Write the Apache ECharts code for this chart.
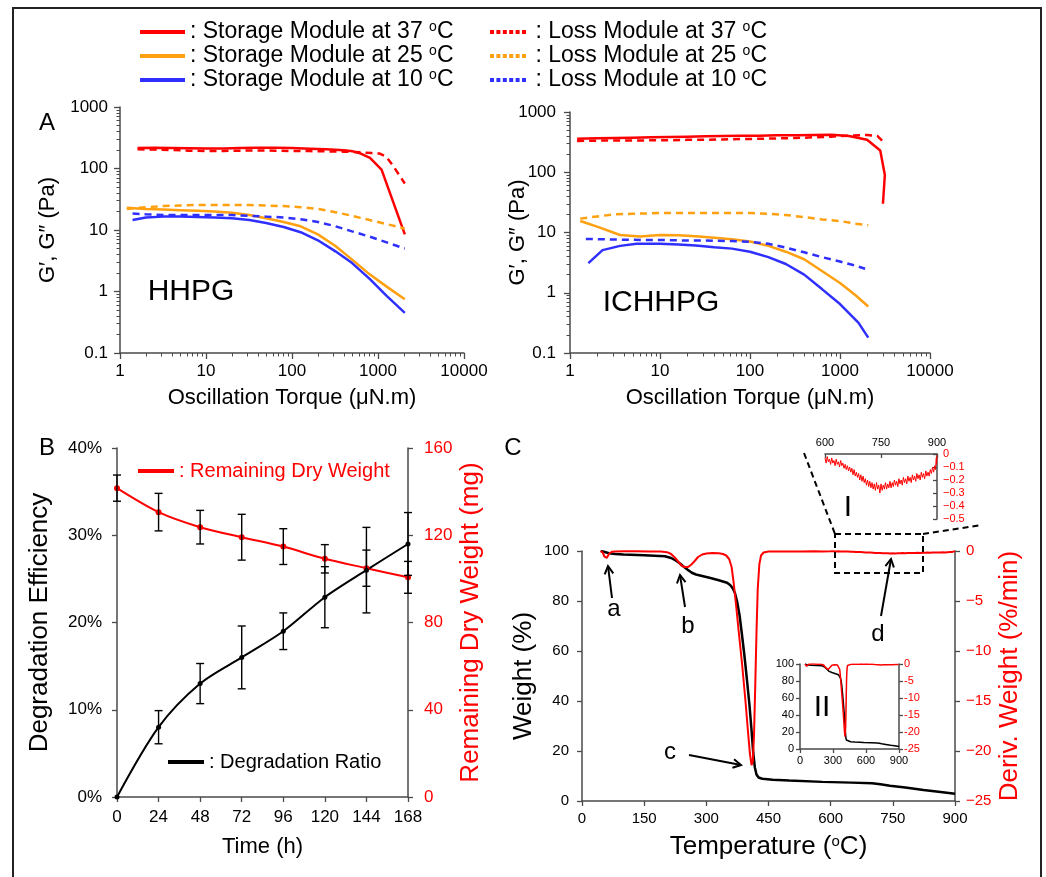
<!DOCTYPE html>
<html><head><meta charset="utf-8">
<script src="https://cdn.jsdelivr.net/npm/echarts@6/dist/echarts.min.js"></script>
<style>html,body{margin:0;padding:0;background:#fff}#c{width:1046px;height:877px}</style>
</head><body><div id="c"></div><script>
// ---------- Panel A : HHPG (x = oscillation torque μN.m, y = modulus Pa) ----------
const hhpgStorage37 = [[1.6,215],[2.5,218],[4,216],[6.3,214],[10,212],[16,212],[25,215],[40,218],[63,218],[100,215],[160,210],[250,205],[400,198],[510,190],[630,175],[807,149],[1100,96],[2050,8.5]];
const hhpgLoss37    = [[1.6,205],[2.5,203],[4,200],[6.3,195],[10,193],[16,193],[25,195],[40,196],[63,195],[100,193],[160,192],[250,190],[400,188],[630,183],[850,178],[1050,175],[1250,155],[1500,110],[2050,57]];
const hhpgStorage25 = [[1.2,23],[2,22],[3.2,21.5],[5,21],[8,20.5],[12.6,20],[20,19],[32,17.5],[50,15.5],[80,13.5],[126,11.5],[200,8.5],[320,5.5],[500,3.3],[800,1.9],[1260,1.2],[2050,0.75]];
const hhpgLoss25    = [[1.2,22],[2,23.5],[3.2,24.5],[5,25],[8,25.5],[12.6,25.5],[20,25.5],[32,25.5],[50,25],[80,24.5],[126,23.5],[200,22],[320,19.5],[500,17],[800,14.5],[1260,12.5],[2050,10.5]];
const hhpgStorage10 = [[1.4,14.5],[2,16],[3.2,16.5],[5,16.5],[8,16.3],[12.6,16],[20,15.5],[32,14.5],[50,13],[80,11.2],[126,9.2],[200,6.8],[320,4.5],[500,2.9],[800,1.6],[1260,0.85],[2050,0.45]];
const hhpgLoss10    = [[1.4,18.5],[2,18],[3.2,17.5],[5,17.5],[8,17.5],[12.6,17.5],[20,17.5],[32,17],[50,16.5],[80,16],[126,15],[200,13.5],[320,11.5],[500,9.5],[800,7.8],[1260,6.3],[2050,5]];
// ---------- Panel A : ICHHPG ----------
const ichStorage37 = [[1.2,360],[2,365],[3.2,370],[5,375],[8,380],[12.6,385],[20,390],[32,395],[50,400],[80,405],[126,405],[200,410],[320,410],[500,415],[800,420],[1260,400],[2000,345],[2800,230],[3150,90],[3000,30]];
const ichLoss37    = [[1.2,330],[2,335],[3.2,335],[5,335],[8,340],[12.6,340],[20,345],[32,345],[50,350],[80,355],[126,360],[200,365],[320,370],[500,380],[800,390],[1260,405],[2000,415],[2600,400],[3100,310]];
const ichStorage25 = [[1.3,15.5],[2,12.5],[3.6,9.1],[6,8.6],[10,9.1],[16,9],[25,8.7],[40,8.2],[63,7.7],[100,7.1],[160,6],[250,4.8],[400,3.6],[630,2.3],[1000,1.45],[1500,0.9],[2060,0.59]];
const ichLoss25    = [[1.3,17],[2,18.5],[3.2,20],[5,20.5],[10,21],[20,21],[40,21],[63,21],[100,21],[160,20.5],[250,19.5],[400,18],[630,16.5],[1000,15.5],[1500,14],[2060,13.2]];
const ichStorage10 = [[1.6,3.1],[2.3,5.1],[3.6,6],[5.5,6.5],[10,6.5],[16,6.3],[25,6.1],[40,5.7],[63,5.4],[100,4.8],[160,3.9],[250,3.0],[400,2.0],[630,1.15],[1000,0.65],[1600,0.32],[2060,0.18]];
const ichLoss10    = [[1.5,7.8],[2.5,7.7],[4,7.6],[6.3,7.5],[10,7.5],[16,7.4],[25,7.4],[40,7.3],[63,7.2],[100,7],[160,6.5],[250,5.6],[400,4.7],[630,3.9],[1000,3.3],[1500,2.8],[1900,2.5]];
// minor tick positions of the log axes (2..9 of every decade)
const logXMinor = [2,3,4,5,6,7,8,9,20,30,40,50,60,70,80,90,200,300,400,500,600,700,800,900,2000,3000,4000,5000,6000,7000,8000,9000];
const logYMinor = [0.2,0.3,0.4,0.5,0.6,0.7,0.8,0.9,2,3,4,5,6,7,8,9,20,30,40,50,60,70,80,90,200,300,400,500,600,700,800,900];

// ---------- Panel B : degradation ----------
const timeHours = [0, 24, 48, 72, 96, 120, 144, 168];
const degradationRatio = [0, 0.080, 0.130, 0.160, 0.190, 0.229, 0.260, 0.290];
const degradationErr   = [0, 0.019, 0.023, 0.036, 0.021, 0.035, 0.049, 0.036];
const dryWeight    = [141.6, 130.6, 123.7, 119.1, 114.8, 109.2, 104.9, 100.7];
const dryWeightErr = [6, 8.6, 7.7, 10.5, 8.2, 6.5, 8.3, 7.3];

// ---------- Panel C : TGA (x = temperature °C) ----------
const weightData = [[45,100],[55,99.6],[65,99.1],[80,98.8],[100,98.6],[150,98.3],[200,97.9],[215,97.2],[225,96.3],[235,95.2],[245,93.8],[255,92.5],[265,91.3],[275,90.6],[290,90],[310,89.2],[330,88.3],[350,87.3],[358,86.3],[364,85],[369,83.2],[374,80],[380,74.5],[386,66.5],[392,58],[398,48.5],[404,38.5],[409,28.5],[413,19.5],[417,13.5],[421,10.6],[426,9.4],[435,8.9],[460,8.5],[500,8.2],[580,7.65],[650,7.35],[700,7.1],[720,6.7],[743,6.1],[780,5.4],[824,4.4],[860,3.7],[900,2.9]];
const derivData = [[45,0],[50,-0.15],[54,-0.55],[57,-0.72],[60,-0.68],[63,-0.45],[67,-0.2],[72,-0.08],[80,-0.04],[100,-0.03],[130,-0.03],[160,-0.04],[190,-0.06],[205,-0.12],[215,-0.3],[225,-0.7],[233,-1.1],[240,-1.45],[248,-1.6],[256,-1.6],[264,-1.35],[272,-1.0],[280,-0.6],[290,-0.35],[300,-0.25],[315,-0.2],[330,-0.22],[340,-0.3],[348,-0.45],[355,-0.8],[361,-1.6],[366,-3.2],[372,-5.5],[378,-8],[386,-11.2],[394,-14.8],[400,-17.8],[405,-20.2],[409,-21.4],[412,-21.1],[415,-18.5],[418,-13.5],[421,-8.2],[424,-3.8],[428,-1.3],[432,-0.45],[438,-0.15],[450,-0.06],[470,-0.04],[500,-0.05],[530,-0.04],[560,-0.03],[580,-0.04],
[600,-0.03],[603,-0.07],[606,-0.02],[609,-0.06],[612,-0.04],[615,-0.08],[618,-0.03],[621,-0.07],[624,-0.05],[627,-0.09],[630,-0.04],[633,-0.08],[636,-0.06],[639,-0.1],[642,-0.05],[645,-0.09],[648,-0.07],[651,-0.11],[654,-0.08],[657,-0.12],[660,-0.09],[663,-0.13],[666,-0.1],[669,-0.14],[672,-0.11],[675,-0.16],[678,-0.12],[681,-0.17],[684,-0.14],[687,-0.18],[690,-0.15],[693,-0.2],[696,-0.16],[699,-0.21],[702,-0.17],[705,-0.22],[708,-0.19],[711,-0.24],[714,-0.2],[717,-0.25],[720,-0.21],[723,-0.26],[726,-0.22],[729,-0.27],[732,-0.23],[735,-0.28],[738,-0.22],[741,-0.27],[744,-0.24],[747,-0.3],[750,-0.23],[753,-0.28],[756,-0.24],[759,-0.27],[762,-0.22],[765,-0.27],[768,-0.23],[771,-0.26],[774,-0.21],[777,-0.26],[780,-0.22],[783,-0.25],[786,-0.2],[789,-0.24],[792,-0.21],[795,-0.25],[798,-0.19],[801,-0.23],[804,-0.2],[807,-0.24],[810,-0.18],[813,-0.22],[816,-0.19],[819,-0.23],[822,-0.17],[825,-0.21],[828,-0.18],[831,-0.22],[834,-0.16],[837,-0.2],[840,-0.17],[843,-0.21],[846,-0.15],[849,-0.19],[852,-0.16],[855,-0.2],[858,-0.14],[861,-0.18],[864,-0.15],[867,-0.19],[870,-0.13],[873,-0.17],[876,-0.14],[879,-0.17],[882,-0.12],[885,-0.15],[888,-0.1],[891,-0.14],[894,-0.09],[896,-0.12],[898,-0.03],[899,-0.08],[900,-0.01]];

// ---------- styling ----------
const FONT = "'Liberation Sans', Arial, Helvetica, sans-serif";
const AX = '#4a4a4a';
const RED = '#ff0000', ORANGE = '#ffa010', BLUE = '#2f2fff';
const DASH = [7, 5];
const SUP = {sup: {fontSize: 14, verticalAlign: 'top', lineHeight: 14}};

function mkAxis(o) {
  const a = {
    type: o.type || 'value', gridIndex: o.grid, min: o.min, max: o.max,
    position: o.position,
    axisLine: {show: o.line !== false, onZero: false, lineStyle: {color: AX, width: 1.5}},
    axisTick: {show: true, inside: !!o.tickInside, length: o.tickLen || 5, lineStyle: {color: AX, width: o.tickWidth || 1.3}},
    axisLabel: {show: o.labels !== false, color: o.labelColor || '#000', fontSize: o.labelSize || 17, margin: o.margin || 10, formatter: o.formatter, fontFamily: FONT},
    splitLine: {show: false},
    name: o.name || '', nameLocation: 'middle', nameGap: o.nameGap || 30, nameMoveOverlap: false,
    nameTextStyle: {fontSize: o.nameSize || 22, color: o.nameColor || '#000', fontFamily: FONT, rich: {sup: {fontSize: 15, verticalAlign: 'top', lineHeight: 16, color: o.nameColor || '#000'}}}
  };
  if (o.interval != null) a.interval = o.interval;
  if (o.customTicks) a.axisTick.customValues = o.customTicks;
  if (o.type === 'log') a.logBase = 10;
  return a;
}
const logFmt = v => String(v);

function ln(name, data, xi, yi, color, dashed, width) {
  return {name, type: 'line', data, xAxisIndex: xi, yAxisIndex: yi, symbol: 'none', color,
    lineStyle: {color, width: width || 2.5, type: dashed ? DASH : 'solid'}, z: 3};
}

function errRender(params, api) {
  const x = api.value(0), lo = api.value(1), hi = api.value(2);
  if (hi - lo <= 0) return null;
  const a = api.coord([x, hi]), b = api.coord([x, lo]);
  const w = 4, st = {stroke: '#000', lineWidth: 1.4};
  return {type: 'group', children: [
    {type: 'line', shape: {x1: a[0], y1: a[1], x2: b[0], y2: b[1]}, style: st},
    {type: 'line', shape: {x1: a[0] - w, y1: a[1], x2: a[0] + w, y2: a[1]}, style: st},
    {type: 'line', shape: {x1: b[0] - w, y1: b[1], x2: b[0] + w, y2: b[1]}, style: st}
  ]};
}

function txt(t, x, y, size, color) {
  return {type: 'text', x, y, z: 20,
    style: {text: t, fontSize: size, fontFamily: FONT, fill: color || '#000', align: 'center', verticalAlign: 'middle', textAlign: 'center', textVerticalAlign: 'middle'}};
}
function arrow(x1, y1, x2, y2) {
  const ang = Math.atan2(y2 - y1, x2 - x1), L = 9, A = 0.5;
  const h1 = [x2 - L * Math.cos(ang - A), y2 - L * Math.sin(ang - A)];
  const h2 = [x2 - L * Math.cos(ang + A), y2 - L * Math.sin(ang + A)];
  return [
    {type: 'line', z: 20, shape: {x1, y1, x2, y2}, style: {stroke: '#000', lineWidth: 2}},
    {type: 'polyline', z: 20, shape: {points: [h1, [x2, y2], h2]}, style: {stroke: '#000', lineWidth: 2, fill: null}}
  ];
}

const dottedIcon = 'path://M0,0H5V5H0Z M8,0H13V5H8Z M16,0H21V5H16Z M24,0H29V5H24Z M32,0H37V5H32Z M40,0H45V5H40Z';
const legFmt = name => ': ' + name.replace('°', '{sup|o}');

const S37 = 'Storage Module at 37 °C', S25 = 'Storage Module at 25 °C', S10 = 'Storage Module at 10 °C';
const L37 = 'Loss Module at 37 °C', L25 = 'Loss Module at 25 °C', L10 = 'Loss Module at 10 °C';

// minor-tick overlay axes (no line, no labels) on the log grids
function minorX(grid) { return mkAxis({type: 'log', grid, position: 'bottom', min: 1, max: 10000, line: false, labels: false, tickLen: 3.5, tickWidth: 1, customTicks: logXMinor}); }
function minorY(grid) { return mkAxis({type: 'log', grid, position: 'left', min: 0.1, max: 1000, line: false, labels: false, tickLen: 3.5, tickWidth: 1, customTicks: logYMinor}); }

const option = {
  animation: false,
  textStyle: {fontFamily: FONT, color: '#000'},
  grid: [
    {left: 120, top: 107, width: 344, height: 246},
    {left: 570, top: 112, width: 360, height: 241},
    {left: 117, top: 448, width: 291, height: 349},
    {left: 582, top: 551, width: 373, height: 250},
    {left: 800, top: 664, width: 99, height: 85},
    {left: 825, top: 454, width: 112, height: 65}
  ],
  xAxis: [
    mkAxis({type: 'log', grid: 0, position: 'bottom', min: 1, max: 10000, formatter: logFmt, margin: 10, tickLen: 6, name: 'Oscillation Torque (μN.m)', nameGap: 34}),
    mkAxis({type: 'log', grid: 1, position: 'bottom', min: 1, max: 10000, formatter: logFmt, margin: 10, tickLen: 6, name: 'Oscillation Torque (μN.m)', nameGap: 34}),
    mkAxis({grid: 2, position: 'bottom', min: 0, max: 168, interval: 24, margin: 12, tickLen: 5, name: 'Time (h)', nameGap: 39}),
    mkAxis({grid: 3, position: 'bottom', min: 0, max: 900, interval: 150, labelSize: 15, margin: 10, tickLen: 5, name: 'Temperature ({sup|o}C)', nameSize: 26, nameGap: 33}),
    mkAxis({grid: 4, position: 'bottom', min: 0, max: 900, interval: 300, labelSize: 11, margin: 6, tickLen: 4}),
    mkAxis({grid: 5, min: 600, max: 900, interval: 150, position: 'top', labelSize: 11, margin: 6, tickLen: 4, tickInside: true}),
    minorX(0), minorX(1)
  ],
  yAxis: [
    mkAxis({type: 'log', grid: 0, position: 'left', min: 0.1, max: 1000, formatter: logFmt, margin: 12, tickLen: 6, name: "G′, G″ (Pa)", nameGap: 61}),
    mkAxis({type: 'log', grid: 1, position: 'left', min: 0.1, max: 1000, formatter: logFmt, margin: 14, tickLen: 6, name: "G′, G″ (Pa)", nameGap: 41}),
    mkAxis({grid: 2, position: 'left', min: 0, max: 0.4, interval: 0.1, margin: 15, formatter: v => Math.round(v * 100) + '%', name: 'Degradation Efficiency', nameSize: 26, nameGap: 64}),
    mkAxis({grid: 2, min: 0, max: 160, interval: 40, position: 'right', margin: 16, labelColor: RED, name: 'Remaining Dry Weight (mg)', nameSize: 26, nameColor: RED, nameGap: 50}),
    mkAxis({grid: 3, position: 'left', min: 0, max: 100, interval: 20, labelSize: 15, margin: 13, name: 'Weight (%)', nameSize: 26, nameGap: 45}),
    mkAxis({grid: 3, min: -25, max: 0, interval: 5, position: 'right', labelSize: 15, margin: 11, labelColor: RED, formatter: v => v < 0 ? '−' + (-v) : String(v), name: 'Deriv. Weight (%/min)', nameSize: 26, nameColor: RED, nameGap: 42}),
    mkAxis({grid: 4, position: 'left', min: 0, max: 100, interval: 20, labelSize: 11, margin: 6, tickLen: 4}),
    mkAxis({grid: 4, min: -25, max: 0, interval: 5, position: 'right', labelSize: 11, margin: 5, tickLen: 4, labelColor: RED}),
    mkAxis({grid: 5, min: -0.5, max: 0, interval: 0.1, position: 'right', labelSize: 11, margin: 6, tickLen: 4, tickInside: true, labelColor: RED, formatter: v => Math.abs(v) < 1e-9 ? '0' : '−' + Math.abs(v).toFixed(1)}),
    minorY(0), minorY(1)
  ],
  legend: [
    {orient: 'vertical', left: 140, top: 20, padding: 0, itemWidth: 45, itemHeight: 4, itemGap: 0, icon: 'rect', selectedMode: false,
     itemStyle: {borderWidth: 0}, formatter: legFmt,
     textStyle: {fontSize: 23, lineHeight: 24, color: '#000', rich: SUP}, data: [S37, S25, S10]},
    {orient: 'vertical', left: 490, top: 20, padding: 0, itemWidth: 45, itemHeight: 4, itemGap: 0, icon: dottedIcon, selectedMode: false,
     itemStyle: {borderWidth: 0}, formatter: legFmt,
     textStyle: {fontSize: 23, lineHeight: 24, color: '#000', rich: SUP}, data: [L37, L25, L10]},
    {left: 138, top: 461, padding: 0, itemWidth: 36, itemHeight: 4, icon: 'rect', selectedMode: false, itemStyle: {borderWidth: 0},
     formatter: n => ': ' + n, textStyle: {fontSize: 20, lineHeight: 20, color: RED}, data: ['Remaining Dry Weight']},
    {left: 168, top: 752, padding: 0, itemWidth: 36, itemHeight: 4, icon: 'rect', selectedMode: false, itemStyle: {borderWidth: 0},
     formatter: n => ': ' + n, textStyle: {fontSize: 20, lineHeight: 20, color: '#000'}, data: ['Degradation Ratio']}
  ],
  series: [
    ln(S37, hhpgStorage37, 0, 0, RED, false), ln(L37, hhpgLoss37, 0, 0, RED, true),
    ln(S25, hhpgStorage25, 0, 0, ORANGE, false), ln(L25, hhpgLoss25, 0, 0, ORANGE, true),
    ln(S10, hhpgStorage10, 0, 0, BLUE, false), ln(L10, hhpgLoss10, 0, 0, BLUE, true),
    ln(S37, ichStorage37, 1, 1, RED, false), ln(L37, ichLoss37, 1, 1, RED, true),
    ln(S25, ichStorage25, 1, 1, ORANGE, false), ln(L25, ichLoss25, 1, 1, ORANGE, true),
    ln(S10, ichStorage10, 1, 1, BLUE, false), ln(L10, ichLoss10, 1, 1, BLUE, true),
    {name: 'Remaining Dry Weight', type: 'line', xAxisIndex: 2, yAxisIndex: 3, smooth: 0.3, color: RED,
     symbol: 'circle', symbolSize: 6, lineStyle: {width: 2, color: RED}, itemStyle: {color: RED},
     data: timeHours.map((t, i) => [t, dryWeight[i]]), z: 3},
    {name: 'Degradation Ratio', type: 'line', xAxisIndex: 2, yAxisIndex: 2, smooth: 0.3, color: '#000',
     symbol: 'circle', symbolSize: 5, lineStyle: {width: 2, color: '#000'}, itemStyle: {color: '#000'},
     data: timeHours.map((t, i) => [t, degradationRatio[i]]), z: 3},
    {name: 'dry weight error', type: 'custom', xAxisIndex: 2, yAxisIndex: 3, renderItem: errRender, encode: {x: 0, y: [1, 2]}, z: 4,
     data: timeHours.map((t, i) => [t, dryWeight[i] - dryWeightErr[i], dryWeight[i] + dryWeightErr[i]])},
    {name: 'degradation error', type: 'custom', xAxisIndex: 2, yAxisIndex: 2, renderItem: errRender, encode: {x: 0, y: [1, 2]}, z: 4,
     data: timeHours.map((t, i) => [t, degradationRatio[i] - degradationErr[i], degradationRatio[i] + degradationErr[i]])},
    ln('Weight', weightData, 3, 4, '#000', false, 2.5),
    ln('Deriv. Weight', derivData, 3, 5, RED, false, 2),
    ln('Weight (inset II)', weightData, 4, 6, '#000', false, 1.5),
    ln('Deriv. Weight (inset II)', derivData, 4, 7, RED, false, 1.5),
    ln('Deriv. Weight (inset I)', derivData.filter(p => p[0] >= 600), 5, 8, RED, false, 1)
  ],
  graphic: [
    {type: 'rect', z: 0, shape: {x: 13, y: 8, width: 1028, height: 880}, style: {fill: null, stroke: '#222', lineWidth: 2}},
    txt('A', 47, 123, 24), txt('B', 47, 448, 24), txt('C', 513, 448, 24),
    txt('HHPG', 191, 292, 30), txt('ICHHPG', 661, 303, 30),
    txt('a', 614, 609, 24), txt('b', 688, 626, 24), txt('c', 670, 752, 24), txt('d', 878, 634, 24),
    txt('I', 848, 508, 30), txt('II', 822, 708, 30),
    ...arrow(612, 598, 608, 566), ...arrow(685, 607, 680, 575), ...arrow(689, 755, 741, 765), ...arrow(881, 616, 891, 559),
    {type: 'rect', z: 20, shape: {x: 835, y: 534, width: 88, height: 39}, style: {fill: null, stroke: '#000', lineWidth: 2, lineDash: [6, 4]}},
    {type: 'polyline', z: 20, shape: {points: [[804, 453], [835, 534]]}, style: {fill: null, stroke: '#000', lineWidth: 2, lineDash: [6, 4]}},
    {type: 'polyline', z: 20, shape: {points: [[923, 534], [982, 525]]}, style: {fill: null, stroke: '#000', lineWidth: 2, lineDash: [6, 4]}}
  ]
};
const chart = echarts.init(document.getElementById('c'), null, {renderer: 'canvas'});
chart.setOption(option);
</script></body></html>
